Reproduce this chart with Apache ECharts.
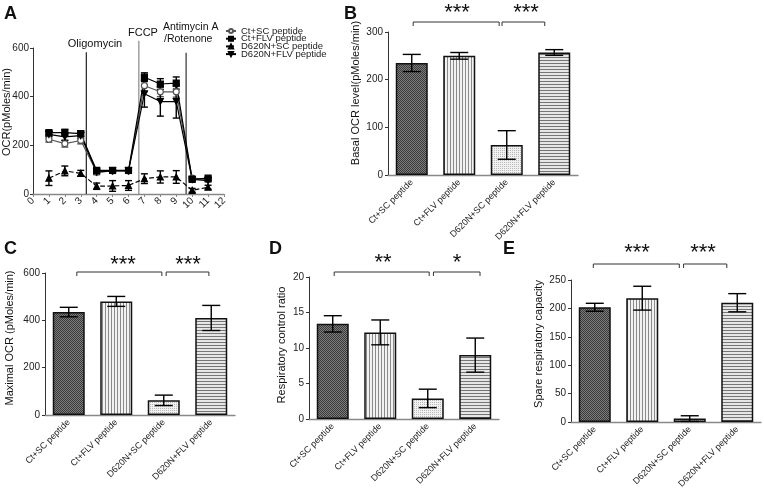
<!DOCTYPE html>
<html><head><meta charset="utf-8">
<script src="https://cdn.jsdelivr.net/npm/echarts@6/dist/echarts.min.js"></script>
<style>html,body{margin:0;padding:0;background:#fff}#c{width:764px;height:489px}</style>
</head><body><div id="c"></div>
<script>
// ---------- Panel A data ----------
var timePoints = [1,2,3,4,5,6,7,8,9,10,11];
var seriesNames = ['Ct+SC peptide','Ct+FLV peptide','D620N+SC peptide','D620N+FLV peptide'];
var ctSC      = [225,207,220, 90, 95, 95,445,420,420, 65, 60];
var ctSCErr   = [ 12, 14, 14,  8,  5,  5, 25, 20, 22,  5,  5];
var ctFLV     = [252,252,248, 97, 97, 97,480,452,456, 60, 65];
var ctFLVErr  = [  8, 14, 10, 10,  5,  5, 18, 22, 25,  5,  5];
var dSC       = [ 65, 95, 85, 32, 33, 35, 63, 70, 70, 15, 28];
var dSCErr    = [ 30, 20, 12, 13, 22, 20, 20, 25, 26,  8,  8];
var dFLV      = [245,235,240, 90, 95, 95,412,380,380, 60, 55];
var dFLVErr   = [ 10, 15, 12, 10,  5,  5, 55, 60, 68,  5,  5];
var treatTimes  = [3.35, 6.65, 9.62];
var treatTops   = [583, 630, 580];

// ---------- Bar panels data ----------
var groups = ['Ct+SC peptide','Ct+FLV peptide','D620N+SC peptide','D620N+FLV peptide'];
var basalOCR     = [235, 250, 63, 257];
var basalErr     = [18, 7, 30, 6];
var maximalOCR   = [435, 480, 62, 410];
var maximalErr   = [20, 21, 22, 53];
var rcr          = [13.4, 12.2, 2.9, 9.0];
var rcrErr       = [1.15, 1.75, 1.3, 2.4];
var spare        = [202, 218, 6, 210];
var spareErr     = [7, 21, 5, 16];

// ---------- layout ----------
var grids = [
  {left:33,  top:48,  width:191, height:146},  // A
  {left:388, top:32,  width:190, height:143},  // B
  {left:45,  top:273, width:190, height:142},  // C
  {left:309, top:277, width:190, height:142},  // D
  {left:571, top:280, width:190, height:142}   // E
];
var TXT = '#222';
var FONT = 'Liberation Sans, Arial, sans-serif';

function makePattern(w,h,draw){
  var c=document.createElement('canvas'); c.width=w; c.height=h;
  draw(c.getContext('2d')); return {image:c, repeat:'repeat'};
}
var patterns = [
  makePattern(2,2,function(g){g.fillStyle='#7c7c7c';g.fillRect(0,0,2,2);g.fillStyle='#3a3a3a';g.fillRect(0,0,1,1);g.fillRect(1,1,1,1);}),
  makePattern(3,1,function(g){g.fillStyle='#f2f2f2';g.fillRect(0,0,3,1);g.fillStyle='#8a8a8a';g.fillRect(0,0,1,1);}),
  makePattern(2,2,function(g){g.fillStyle='#f1f1f1';g.fillRect(0,0,2,2);g.fillStyle='#b8b8b8';g.fillRect(0,0,1,1);}),
  makePattern(1,3,function(g){g.fillStyle='#e6e6e6';g.fillRect(0,0,1,3);g.fillStyle='#767676';g.fillRect(0,0,1,1);})
];

function errRender(capHalf, color){
  return function(params, api){
    var x=api.value(0), v=api.value(1), e=api.value(2);
    var t=api.coord([x, v+e]), b=api.coord([x, v-e]);
    var st={stroke:color||'#000', lineWidth:1.4};
    return {type:'group', children:[
      {type:'line', shape:{x1:t[0],y1:t[1],x2:b[0],y2:b[1]}, style:st},
      {type:'line', shape:{x1:t[0]-capHalf,y1:t[1],x2:t[0]+capHalf,y2:t[1]}, style:st},
      {type:'line', shape:{x1:b[0]-capHalf,y1:b[1],x2:b[0]+capHalf,y2:b[1]}, style:st}
    ]};
  };
}
function zip3(xs, vs, es){ return xs.map(function(x,i){return [x, vs[i], es[i]];}); }
function zip2(xs, vs){ return xs.map(function(x,i){return [x, vs[i]];}); }

var xAxes = [], yAxes = [], series = [];
xAxes.push({gridIndex:0, type:'value', min:0, max:12, interval:1,
  axisLine:{lineStyle:{color:'#888', width:1.3}}, axisTick:{length:3, lineStyle:{color:'#888'}},
  splitLine:{show:false},
  axisLabel:{rotate:45, fontSize:10, color:TXT, margin:5, fontFamily:FONT}});
yAxes.push({gridIndex:0, type:'value', min:0, max:600, interval:200,
  axisLine:{show:true, lineStyle:{color:'#333', width:1}}, axisTick:{show:true, length:3, lineStyle:{color:'#333'}},
  splitLine:{show:false}, axisLabel:{fontSize:10, color:TXT, margin:4, fontFamily:FONT}});

var barPanels = [
  {vals:basalOCR, errs:basalErr, max:300, interval:100},
  {vals:maximalOCR, errs:maximalErr, max:600, interval:200},
  {vals:rcr, errs:rcrErr, max:20, interval:5},
  {vals:spare, errs:spareErr, max:250, interval:50}
];
barPanels.forEach(function(p, k){
  var gi = k+1;
  xAxes.push({gridIndex:gi, type:'category', data:groups, boundaryGap:true,
    axisLine:{lineStyle:{color:'#888', width:1.3}},
    axisTick:{alignWithLabel:true, length:3, lineStyle:{color:'#888'}},
    axisLabel:{rotate:45, fontSize:9, color:TXT, margin:6, interval:0, fontFamily:FONT}});
  yAxes.push({gridIndex:gi, type:'value', min:0, max:p.max, interval:p.interval,
    axisLine:{show:true, lineStyle:{color:'#333', width:1}}, axisTick:{show:true, length:3, lineStyle:{color:'#333'}},
    splitLine:{show:false}, axisLabel:{fontSize:10, color:TXT, margin:5, fontFamily:FONT}});
  series.push({type:'bar', xAxisIndex:gi, yAxisIndex:gi, barWidth:32, silent:true,
    data:p.vals.map(function(v,i){return {value:v, itemStyle:{color:patterns[i], borderColor:'#111', borderWidth:1.5}};}),
    z:2});
  series.push({type:'custom', xAxisIndex:gi, yAxisIndex:gi, silent:true, z:5,
    renderItem:errRender(9), encode:{x:0, y:1},
    data:p.vals.map(function(v,i){return [i, v, p.errs[i]];})});
});

var lineDefs = [
  {vals:ctSC, errs:ctSCErr, symbol:'circle', rot:0, fill:'#fff', stroke:'#555', dash:'solid'},
  {vals:ctFLV, errs:ctFLVErr, symbol:'rect', rot:0, fill:'#000', stroke:'#000', dash:'solid'},
  {vals:dSC, errs:dSCErr, symbol:'triangle', rot:0, fill:'#000', stroke:'#000', dash:'dashed'},
  {vals:dFLV, errs:dFLVErr, symbol:'triangle', rot:180, fill:'#000', stroke:'#000', dash:'solid'}
];
series.push({type:'custom', xAxisIndex:0, yAxisIndex:0, silent:true, z:1, clip:false,
  data:zip2(treatTimes, treatTops),
  renderItem:function(params, api){
    var x=api.value(0), top=api.value(1);
    var a=api.coord([x,0]), b=api.coord([x,top]);
    var cols=['#222','#888','#333'];
    return {type:'line', shape:{x1:a[0],y1:a[1],x2:b[0],y2:b[1]}, style:{stroke:cols[params.dataIndex], lineWidth:1.2}};
  }});
lineDefs.forEach(function(d, k){
  series.push({type:'custom', xAxisIndex:0, yAxisIndex:0, silent:true, z:3,
    renderItem:errRender(3.5, d.stroke), encode:{x:0,y:1}, data:zip3(timePoints, d.vals, d.errs)});
  series.push({type:'line', name:seriesNames[k], xAxisIndex:0, yAxisIndex:0, z:4,
    data:zip2(timePoints, d.vals), symbol:d.symbol, symbolRotate:d.rot, symbolSize:6, showAllSymbol:true,
    itemStyle:{color:d.fill, borderColor:d.stroke, borderWidth:1.2},
    lineStyle:{color:d.stroke, width:1.2, type:d.dash}, animation:false});
});

var gfx = [];
function txt(x,y,s,opt){
  opt=opt||{};
  gfx.push({type:'text', x:x, y:y, rotation:opt.rot||0, silent:true, z:50,
    style:{text:s, fill:'#111', font:(opt.weight||'normal')+' '+(opt.size||11)+'px '+FONT,
      textAlign:opt.align||'left', textVerticalAlign:opt.va||'middle'}});
}
[['A',4,5],['B',344,5],['C',4,240],['D',269,240],['E',503,240]].forEach(function(l){
  txt(l[1], l[2], l[0], {size:18, weight:'bold', va:'top'});
});
var yTitles = [
  ['OCR(pMoles/min)', 7, 112],
  ['Basal OCR level(pMoles/min)', 356, 93],
  ['Maximal OCR (pMoles/min)', 10, 338],
  ['Respiratory control ratio', 282, 345],
  ['Spare respiratory capacity', 539, 344]
];
yTitles.forEach(function(t){ txt(t[1], t[2], t[0], {rot:Math.PI/2, align:'center', size:11}); });
txt(95, 44, 'Oligomycin', {align:'center', size:11});
txt(128, 33, 'FCCP', {size:11});
txt(163, 27, 'Antimycin A', {size:10.5});
txt(164, 39, '/Rotenone', {size:10.5});
var brackets = [
  {gi:1, y:22, spans:[[0.03,1.84],[1.9,2.8]], stars:['***','***'], sx:[457,526], sy:8},
  {gi:2, y:272, spans:[[0.17,1.96],[2.05,2.95]], stars:['***','***'], sx:[123,188], sy:260},
  {gi:3, y:272, spans:[[0.03,2.03],[2.12,3.1]], stars:['**','*'], sx:[383,457], sy:258},
  {gi:4, y:264, spans:[[-0.03,1.78],[1.87,2.78]], stars:['***','***'], sx:[637,703], sy:248}
];
brackets.forEach(function(b){
  var g = grids[b.gi], bw = g.width/4;
  b.spans.forEach(function(s, i){
    var x1 = g.left + (s[0]+0.5)*bw, x2 = g.left + (s[1]+0.5)*bw;
    gfx.push({type:'polyline', silent:true, z:50,
      shape:{points:[[x1,b.y+4],[x1,b.y],[x2,b.y],[x2,b.y+4]]},
      style:{stroke:'#333', lineWidth:1, fill:null}});
    txt(b.sx[i], b.sy+5, b.stars[i], {align:'center', size:22});
  });
});

var chart = echarts.init(document.getElementById('c'), null, {renderer:'canvas'});
chart.setOption({
  animation:false,
  backgroundColor:'#fff',
  textStyle:{fontFamily:FONT},
  grid: grids.map(function(g){ return Object.assign({outerBoundsMode:'none', containLabel:false}, g); }),
  xAxis: xAxes, yAxis: yAxes,
  legend:{data:seriesNames, orient:'vertical', left:225, top:26, itemWidth:10, itemHeight:5, itemGap:-2.3,
    padding:0, selectedMode:false, textStyle:{fontSize:9.5, color:TXT, fontFamily:FONT}},
  series: series,
  graphic: gfx
});
</script></body></html>
